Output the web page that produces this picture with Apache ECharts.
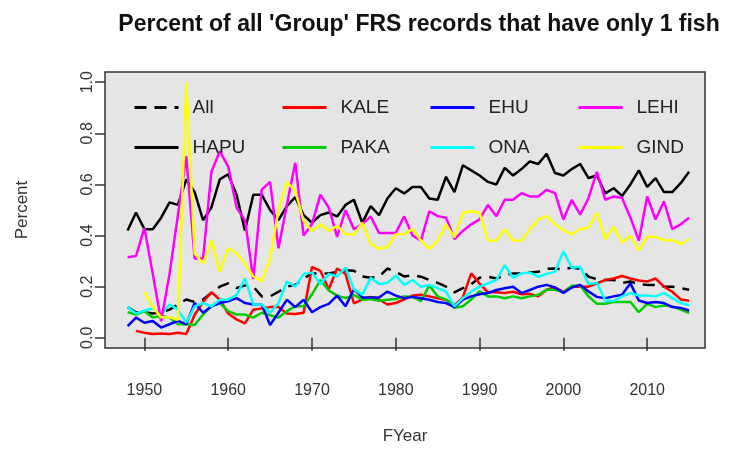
<!DOCTYPE html>
<html>
<head>
<meta charset="utf-8">
<script src="https://cdn.jsdelivr.net/npm/echarts@6/dist/echarts.min.js"></script>
<style>
html, body { margin: 0; padding: 0; background: #fff; }
#chart { width: 732px; height: 450px; }
</style>
</head>
<body>
<div id="chart"></div>
<script>
var years = [];
for (var y = 1948; y <= 2015; y++) years.push(y);

var xTicks = [1950, 1960, 1970, 1980, 1990, 2000, 2010];
var yTicks = [0, 0.2, 0.4, 0.6, 0.8, 1.0];

var allData = [0.12,0.10,0.10,0.095,0.10,0.11,0.13,0.15,0.14,0.15,
	0.175,0.20,0.213,0.195,0.205,0.20,0.162,0.162,0.18,0.20,
	0.207,0.232,0.252,0.252,0.252,0.258,0.264,0.262,0.24,0.235,
	0.239,0.271,0.258,0.24,0.245,0.239,0.226,0.215,0.20,0.178,
	0.194,0.21,0.235,0.239,0.232,0.245,0.252,0.252,0.255,0.258,
	0.27,0.271,0.268,0.275,0.27,0.239,0.229,0.226,0.226,0.215,
	0.22,0.21,0.207,0.207,0.20,0.20,0.194,0.188];
var hapu = [0.42,0.49,0.425,0.425,0.47,0.53,0.52,0.62,0.57,0.46,
	0.51,0.62,0.64,0.56,0.42,0.56,0.56,0.50,0.46,0.515,
	0.55,0.48,0.45,0.48,0.49,0.475,0.52,0.54,0.45,0.515,
	0.48,0.545,0.585,0.565,0.59,0.59,0.545,0.54,0.63,0.57,
	0.675,0.655,0.635,0.61,0.60,0.665,0.635,0.66,0.69,0.68,
	0.72,0.645,0.635,0.66,0.68,0.625,0.635,0.565,0.585,0.555,
	0.60,0.655,0.59,0.625,0.57,0.57,0.605,0.65];
var kale = [null,0.027,0.02,0.015,0.017,0.015,0.02,0.015,0.09,0.14,
	0.178,0.149,0.095,0.072,0.056,0.11,0.115,0.12,0.12,0.095,
	0.093,0.098,0.277,0.262,0.19,0.271,0.25,0.135,0.15,0.16,
	0.15,0.13,0.136,0.15,0.165,0.168,0.162,0.155,0.149,0.127,
	0.158,0.252,0.212,0.178,0.178,0.175,0.18,0.17,0.172,0.162,
	0.188,0.197,0.18,0.20,0.20,0.20,0.213,0.226,0.232,0.242,
	0.232,0.224,0.22,0.232,0.20,0.18,0.15,0.145];
var paka = [0.10,0.091,0.104,0.079,0.085,0.079,0.053,0.053,0.05,0.091,
	0.123,0.136,0.104,0.091,0.091,0.079,0.098,0.088,0.079,0.104,
	0.123,0.123,0.17,0.226,0.185,0.165,0.155,0.168,0.149,0.152,
	0.145,0.149,0.152,0.162,0.16,0.143,0.205,0.162,0.149,0.117,
	0.123,0.15,0.182,0.162,0.162,0.155,0.162,0.155,0.162,0.168,
	0.188,0.188,0.178,0.204,0.204,0.162,0.133,0.133,0.14,0.14,
	0.14,0.10,0.133,0.12,0.126,0.123,0.11,0.098];
var ehu = [0.046,0.079,0.059,0.066,0.04,0.053,0.066,0.053,0.136,0.098,
	0.123,0.136,0.143,0.155,0.136,0.13,0.13,0.05,0.098,0.149,
	0.12,0.149,0.10,0.12,0.133,0.165,0.123,0.19,0.158,0.158,
	0.158,0.181,0.165,0.155,0.16,0.155,0.149,0.14,0.136,0.12,
	0.149,0.162,0.17,0.175,0.187,0.194,0.20,0.175,0.187,0.20,
	0.207,0.197,0.175,0.197,0.207,0.181,0.16,0.155,0.162,0.168,
	0.213,0.146,0.136,0.14,0.136,0.12,0.117,0.107];
var ona = [0.12,0.095,0.107,0.115,0.091,0.13,0.11,0.059,0.123,0.136,
	0.123,0.149,0.149,0.168,0.232,0.13,0.13,0.098,0.136,0.22,
	0.20,0.25,0.255,0.21,0.25,0.24,0.275,0.19,0.168,0.235,
	0.21,0.215,0.243,0.207,0.226,0.20,0.207,0.194,0.181,0.123,
	0.155,0.181,0.20,0.213,0.226,0.284,0.235,0.252,0.255,0.239,
	0.25,0.258,0.338,0.274,0.278,0.21,0.215,0.146,0.143,0.162,
	0.175,0.165,0.165,0.162,0.175,0.155,0.136,0.127];
var lehi = [0.315,0.32,0.43,0.25,0.065,0.25,0.48,0.71,0.31,0.31,
	0.65,0.73,0.67,0.51,0.46,0.23,0.58,0.61,0.35,0.52,
	0.685,0.40,0.445,0.56,0.51,0.395,0.50,0.425,0.445,0.475,
	0.41,0.41,0.41,0.475,0.40,0.38,0.495,0.476,0.47,0.386,
	0.418,0.444,0.463,0.52,0.476,0.54,0.54,0.566,0.553,0.553,
	0.579,0.566,0.463,0.54,0.482,0.547,0.649,0.54,0.553,0.547,
	0.47,0.38,0.553,0.463,0.534,0.425,0.444,0.47];
var gind = [null,null,0.18,0.12,0.08,0.08,0.07,1.0,0.33,0.29,
	0.38,0.26,0.35,0.33,0.29,0.24,0.22,0.31,0.50,0.61,
	0.575,0.457,0.418,0.444,0.418,0.438,0.405,0.405,0.45,0.367,
	0.348,0.354,0.405,0.405,0.425,0.38,0.348,0.38,0.444,0.393,
	0.489,0.495,0.489,0.38,0.38,0.425,0.38,0.38,0.425,0.463,
	0.476,0.444,0.42,0.405,0.425,0.431,0.489,0.386,0.434,0.373,
	0.399,0.341,0.395,0.395,0.382,0.382,0.367,0.386];

var names = ['All', 'HAPU', 'KALE', 'PAKA', 'EHU', 'ONA', 'LEHI', 'GIND'];
var colors = ['#000000', '#000000', '#ff0000', '#00cd00', '#0000ff', '#00ffff', '#ff00ff', '#ffff00'];
var values = [allData, hapu, kale, paka, ehu, ona, lehi, gind];

function pairs(arr) {
	var out = [];
	for (var i = 0; i < years.length; i++) {
		out.push([years[i], arr[i]]);
	}
	return out;
}

var mySeries = [];
for (var s = 0; s < names.length; s++) {
	mySeries.push({
		name: names[s],
		type: 'line',
		symbol: 'none',
		animation: false,
		data: pairs(values[s]),
		lineStyle: {
			color: colors[s],
			width: 2.5,
			type: s == 0 ? [12, 8] : 'solid'
		},
		itemStyle: { color: colors[s] }
	});
}

// legend is 4 columns of 2 rows, like R's legend(ncol=4)
var legendCols = [[128, ['All', 'HAPU']], [276, ['KALE', 'PAKA']], [424, ['EHU', 'ONA']], [572, ['LEHI', 'GIND']]];
var myLegends = [];
for (var c = 0; c < legendCols.length; c++) {
	myLegends.push({
		orient: 'vertical',
		left: legendCols[c][0],
		top: 93,
		itemWidth: 44,
		itemHeight: 14,
		itemGap: 21,
		selectedMode: false,
		data: legendCols[c][1],
		itemStyle: { opacity: 0 },
		lineStyle: { width: 3 },
		textStyle: {
			fontFamily: 'Liberation Sans, Arial',
			fontSize: 19,
			lineHeight: 14,
			color: '#222',
			padding: [0, 0, 0, 9]
		}
	});
}

var myChart = echarts.init(document.getElementById('chart'));
var option = {
	backgroundColor: '#ffffff',
	title: {
		text: "Percent of all 'Group' FRS records that have only 1 fish",
		left: 414,
		top: 8,
		textAlign: 'center',
		textStyle: {
			fontFamily: 'Liberation Sans, Arial',
			fontWeight: 'bold',
			fontSize: 23,
			color: '#111'
		}
	},
	legend: myLegends,
	grid: {
		left: 105,
		right: 27,
		top: 72,
		bottom: 97,
		show: true,
		backgroundColor: '#e5e5e5',
		borderColor: '#333',
		borderWidth: 1.5
	},
	xAxis: {
		type: 'value',
		min: 1945.3,
		max: 2016.9,
		name: 'FYear',
		nameLocation: 'middle',
		nameGap: 80,
		nameTextStyle: { fontFamily: 'Liberation Sans, Arial', fontSize: 17, color: '#333' },
		axisLine: { show: false },
		splitLine: { show: false },
		axisTick: { show: true, length: 13, customValues: xTicks, lineStyle: { color: '#333', width: 1.5 } },
		axisLabel: {
			customValues: xTicks,
			margin: 35,
			fontFamily: 'Liberation Sans, Arial',
			fontSize: 16,
			color: '#333',
			formatter: function(v) { return String(v); }
		}
	},
	yAxis: {
		type: 'value',
		min: -0.04,
		max: 1.04,
		name: 'Percent',
		nameLocation: 'middle',
		nameGap: 74,
		nameTextStyle: { fontFamily: 'Liberation Sans, Arial', fontSize: 17, color: '#333' },
		axisLine: { show: false },
		splitLine: { show: false },
		axisTick: { show: true, length: 10, customValues: yTicks, lineStyle: { color: '#333', width: 1.5 } },
		axisLabel: {
			customValues: yTicks,
			rotate: 90,
			margin: 9,
			fontFamily: 'Liberation Sans, Arial',
			fontSize: 16,
			color: '#333',
			formatter: function(v) { return v.toFixed(1); }
		}
	},
	series: mySeries
};
myChart.setOption(option);
</script>
</body>
</html>
